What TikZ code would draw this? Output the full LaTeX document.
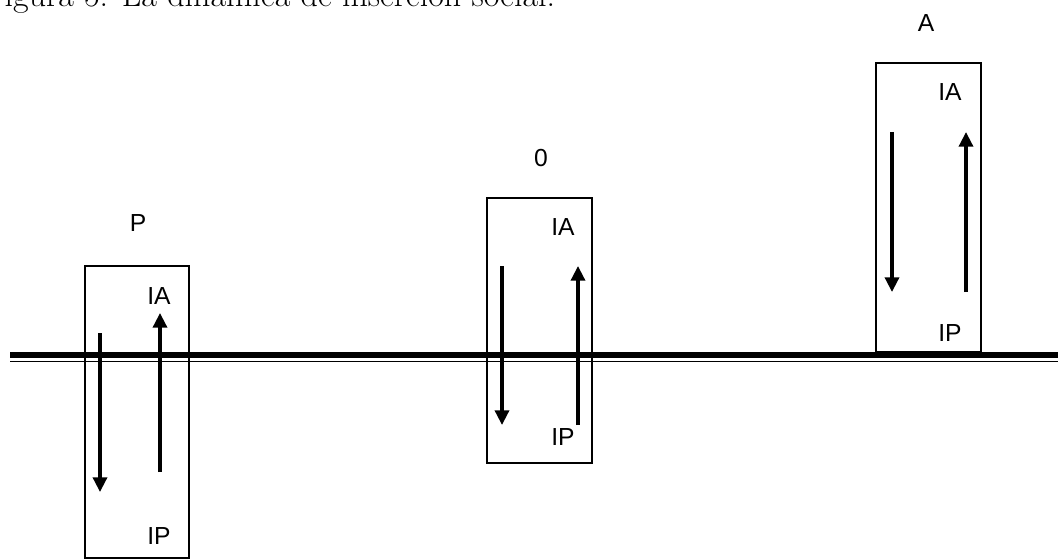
\documentclass[tikz,border=0pt]{standalone}
\usepackage{fontspec}
\newfontfamily\labfont{Liberation Sans}
\usetikzlibrary{arrows.meta}
\begin{document}
\begin{tikzpicture}[x=0.75pt,y=-0.75pt,
  boxst/.style={draw,line width=1pt,inner sep=0pt},
  lab/.style={font=\labfont\fontsize{18.5}{22}\selectfont,inner sep=0pt},
  arr/.style={line width=2.5pt,-{Triangle[length=11pt,width=10.5pt]}}]
\useasboundingbox (0,0) rectangle (1058,560);
\clip (0,0) rectangle (1058,560);
\fill[white] (0,0) rectangle (1058,560);
% title
\node[anchor=base west,inner sep=0pt,font=\fontsize{25.5}{30}\selectfont] (title) at (-16,7) {Figura 5: La dinámica de inserción social.};
% ground line
\coordinate (gl) at (10,355);
\coordinate (gr) at (1062,355);
\coordinate (tl) at (10,361.3);
\coordinate (tr) at (1062,361.3);
\draw[line width=4.5pt] (gl) -- (gr);
\draw[line width=1pt] (tl) -- (tr);
% boxes
\node[boxst,minimum width=78pt,minimum height=219pt] (bp) at (137,412) {};
\node[boxst,minimum width=78.75pt,minimum height=198.75pt] (bo) at (539.5,330.5) {};
\node[boxst,minimum width=78.75pt,minimum height=216.75pt] (ba) at (928.5,207.5) {};
% labels
\node[lab] (lp) at (138,223) {P};
\node[lab] (pia) at (159,296) {IA};
\node[lab] (pip) at (159,536) {IP};
\node[lab] (lo) at (541,158) {0};
\node[lab] (oia) at (563,227) {IA};
\node[lab] (oip) at (563,437) {IP};
\node[lab] (la) at (926,23) {A};
\node[lab] (aia) at (950,92) {IA};
\node[lab] (aip) at (950,333) {IP};
% arrow ends
\coordinate (pd1) at (100,333); \coordinate (pd2) at (100,492);
\coordinate (pu1) at (160,472); \coordinate (pu2) at (160,313);
\coordinate (od1) at (502,266); \coordinate (od2) at (502,425);
\coordinate (ou1) at (578,425); \coordinate (ou2) at (578,266);
\coordinate (ad1) at (892,132); \coordinate (ad2) at (892,292);
\coordinate (au1) at (966,292); \coordinate (au2) at (966,132);
\draw[arr] (pd1) -- (pd2);
\draw[arr] (pu1) -- (pu2);
\draw[arr] (od1) -- (od2);
\draw[arr] (ou1) -- (ou2);
\draw[arr] (ad1) -- (ad2);
\draw[arr] (au1) -- (au2);
\end{tikzpicture}
\end{document}
